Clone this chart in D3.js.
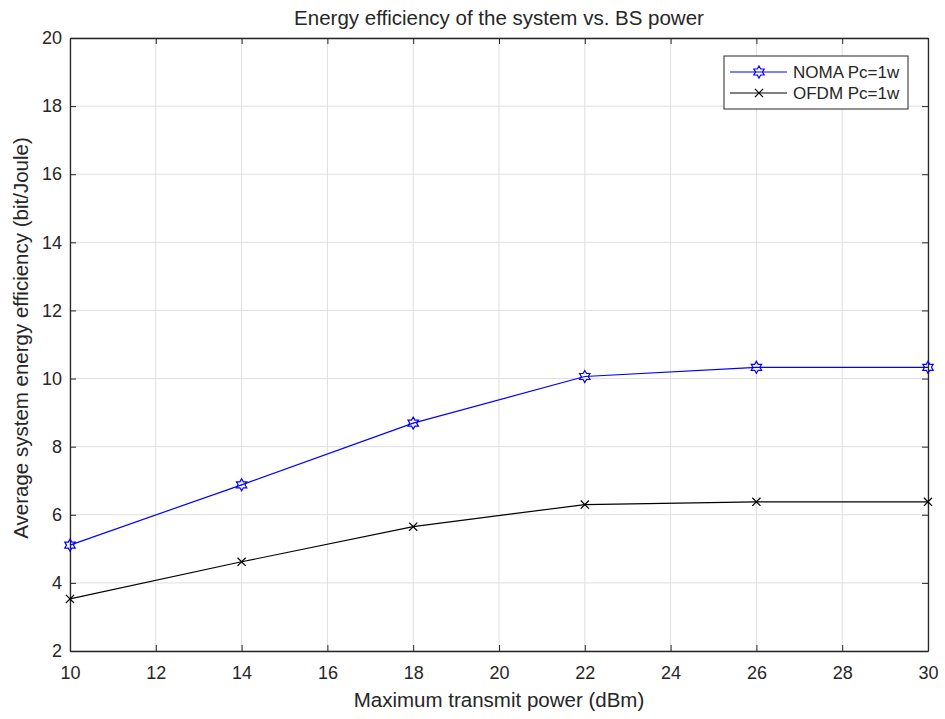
<!DOCTYPE html>
<html>
<head>
<meta charset="utf-8">
<script src="https://cdn.jsdelivr.net/npm/d3@7"></script>
<style>
  body { margin: 0; background: #fff; }
  text { font-family: "Liberation Sans", Arial, sans-serif; fill: #262626; }
</style>
</head>
<body>
<svg id="chart" width="945" height="719"></svg>
<script>
// data
var power = [10, 14, 18, 22, 26, 30];
var noma = [5.11, 6.88, 8.69, 10.06, 10.33, 10.33];
var ofdm = [3.53, 4.62, 5.65, 6.30, 6.38, 6.38];
var xTicks = [10, 12, 14, 16, 18, 20, 22, 24, 26, 28, 30];
var yTicks = [2, 4, 6, 8, 10, 12, 14, 16, 18, 20];

var svg = d3.select("#chart");
var pLeft = 70, pRight = 928, pTop = 38, pBottom = 651;

var x = d3.scaleLinear().domain([10, 30]).range([pLeft, pRight]);
var y = d3.scaleLinear().domain([2, 20]).range([pBottom, pTop]);

// grid
svg.append("g").selectAll("line").data(xTicks).enter().append("line")
   .attr("x1", d => x(d)).attr("x2", d => x(d))
   .attr("y1", pTop).attr("y2", pBottom)
   .style("stroke", "#dfdfdf").style("stroke-width", 1);
svg.append("g").selectAll("line").data(yTicks).enter().append("line")
   .attr("x1", pLeft).attr("x2", pRight)
   .attr("y1", d => y(d)).attr("y2", d => y(d))
   .style("stroke", "#dfdfdf").style("stroke-width", 1);

// axes (ticks inward, box on)
var axB = d3.axisBottom(x).tickValues(xTicks).tickSizeInner(-6).tickSizeOuter(0).tickPadding(15);
var axT = d3.axisTop(x).tickValues(xTicks).tickSizeInner(-6).tickSizeOuter(0).tickFormat("");
var axL = d3.axisLeft(y).tickValues(yTicks).tickSizeInner(-6).tickSizeOuter(0).tickPadding(8);
var axR = d3.axisRight(y).tickValues(yTicks).tickSizeInner(-6).tickSizeOuter(0).tickFormat("");

svg.append("g").attr("transform", "translate(0," + pBottom + ")").call(axB);
svg.append("g").attr("transform", "translate(0," + pTop + ")").call(axT);
svg.append("g").attr("transform", "translate(" + pLeft + ",0)").call(axL);
svg.append("g").attr("transform", "translate(" + pRight + ",0)").call(axR);

svg.selectAll(".domain").style("stroke", "#262626").style("stroke-width", 1.3);
svg.selectAll(".tick line").style("stroke", "#262626");
svg.selectAll(".tick text").style("font-size", "18px").style("fill", "#262626")
   .style("font-family", "Liberation Sans, Arial, sans-serif");

// hexagram marker
function hexagram(r) {
  var pts = [];
  for (var i = 0; i < 12; i++) {
    var a = Math.PI / 6 * i - Math.PI / 2;
    var rr = (i % 2 === 0) ? r : r * 0.577;
    pts.push([rr * Math.cos(a), rr * Math.sin(a)]);
  }
  return "M" + pts.map(p => p.join(",")).join("L") + "Z";
}
var xMark = d3.symbol().type(d3.symbolX).size(45);

var line = d3.line().x((d, i) => x(power[i])).y(d => y(d));

svg.append("path").datum(noma).attr("d", line)
   .style("fill", "none").style("stroke", "#0000ff").style("stroke-width", 1.2);
svg.append("g").selectAll("path").data(noma).enter().append("path")
   .attr("d", hexagram(6))
   .attr("transform", (d, i) => "translate(" + x(power[i]) + "," + y(d) + ")")
   .style("fill", "none").style("stroke", "#0000ff").style("stroke-width", 1.2);

svg.append("path").datum(ofdm).attr("d", line)
   .style("fill", "none").style("stroke", "#000").style("stroke-width", 1.2);
svg.append("g").selectAll("path").data(ofdm).enter().append("path")
   .attr("d", xMark)
   .attr("transform", (d, i) => "translate(" + x(power[i]) + "," + y(d) + ")")
   .style("fill", "none").style("stroke", "#000").style("stroke-width", 1.2);

// legend
var lg = svg.append("g");
lg.append("rect").attr("x", 724).attr("y", 56).attr("width", 184).attr("height", 53)
  .style("fill", "#fff").style("stroke", "#262626").style("stroke-width", 1);
lg.append("line").attr("x1", 730).attr("x2", 787).attr("y1", 72).attr("y2", 72)
  .style("stroke", "#0000ff").style("stroke-width", 1.2);
lg.append("path").attr("d", hexagram(6)).attr("transform", "translate(759,72)")
  .style("fill", "none").style("stroke", "#0000ff").style("stroke-width", 1.2);
lg.append("text").attr("x", 793).attr("y", 72).attr("dy", "0.35em").text("NOMA Pc=1w")
  .style("font-size", "17px");
lg.append("line").attr("x1", 730).attr("x2", 787).attr("y1", 93).attr("y2", 93)
  .style("stroke", "#000").style("stroke-width", 1.2);
lg.append("path").attr("d", xMark).attr("transform", "translate(759,93)")
  .style("fill", "none").style("stroke", "#000").style("stroke-width", 1.2);
lg.append("text").attr("x", 793).attr("y", 93).attr("dy", "0.35em").text("OFDM Pc=1w")
  .style("font-size", "17px");

// titles
svg.append("text").attr("x", (pLeft + pRight) / 2).attr("y", 25).attr("text-anchor", "middle")
   .text("Energy efficiency of the system vs. BS power").style("font-size", "20.5px");
svg.append("text").attr("x", (pLeft + pRight) / 2).attr("y", 707).attr("text-anchor", "middle")
   .text("Maximum transmit power (dBm)").style("font-size", "20.5px");
svg.append("text").attr("transform", "translate(28,338) rotate(-90)")
   .attr("text-anchor", "middle")
   .text("Average system energy efficiency (bit/Joule)").style("font-size", "20.5px");
</script>
</body>
</html>
